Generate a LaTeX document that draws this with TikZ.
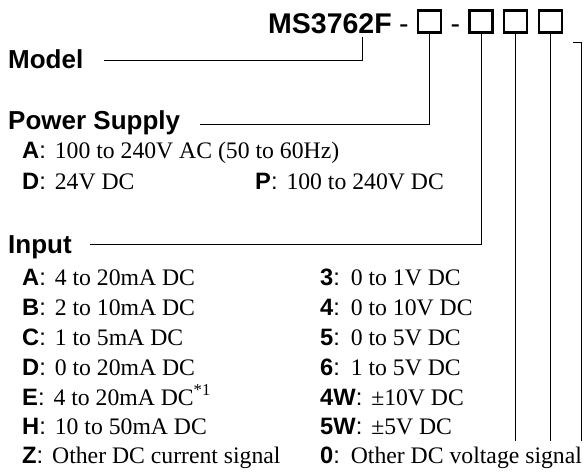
\documentclass[tikz,border=0pt]{standalone}
\usepackage{fontspec}
\setmainfont{Liberation Serif}
\newfontfamily\hvfont{Liberation Sans}
\newcommand\keyitem[2]{{\hvfont\bfseries #1}{\hvfont :}\hspace{3pt} #2}
\begin{document}
\begin{tikzpicture}[x=1pt,y=-1pt,
  txt/.style={anchor=base west, inner sep=0pt},
  titlefont/.style={txt, font=\hvfont\bfseries\fontsize{28.5}{32}\selectfont},
  dashfont/.style={txt, font=\hvfont\fontsize{28.5}{32}\selectfont},
  head/.style={txt, font=\hvfont\bfseries\fontsize{26}{30}\selectfont},
  item/.style={txt, font=\fontsize{23.7}{28}\selectfont},
  codebox/.style={draw, line width=2.4pt, minimum width=23pt, minimum height=22pt, inner sep=0pt},
  conn/.style={line width=1pt}]
\useasboundingbox (0,0) rectangle (584,475);

% title line
\node[titlefont] (title) at (268,33) {MS3762F};
\node[dashfont] (d1) at (399,33) {-};
\node[codebox] (b1) at (429.5,21.5) {};
\node[dashfont] (d2) at (450.5,33) {-};
\node[codebox] (b2) at (481,21.5) {};
\node[codebox] (b3) at (515.5,21.5) {};
\node[codebox] (b4) at (550.5,21.5) {};

% headers
\node[head] (model) at (8,68) {Model};
\node[head] (power) at (8,129) {Power Supply};
\node[head] (input) at (8,253) {Input};

% power supply items
\node[item] (pA) at (22,158) {\keyitem{A}{100 to 240V AC (50 to 60Hz)}};
\node[item] (pD) at (22,189) {\keyitem{D}{24V DC}};
\node[item] (pP) at (255,189) {\keyitem{P}{100 to 240V DC}};

% input items, left column
\node[item] (iA) at (22,285) {\keyitem{A}{4 to 20mA DC}};
\node[item] (iB) at (22,315) {\keyitem{B}{2 to 10mA DC}};
\node[item] (iC) at (22,345) {\keyitem{C}{1 to 5mA DC}};
\node[item] (iD) at (22,375) {\keyitem{D}{0 to 20mA DC}};
\node[item] (iE) at (22,405) {\keyitem{E}{4 to 20mA DC\textsuperscript{*1}}};
\node[item] (iH) at (22,434) {\keyitem{H}{10 to 50mA DC}};
\node[item] (iZ) at (22,463) {\keyitem{Z}{Other DC current signal}};

% input items, right column
\node[item] (i3) at (320,285) {\keyitem{3}{0 to 1V DC}};
\node[item] (i4) at (320,315) {\keyitem{4}{0 to 10V DC}};
\node[item] (i5) at (320,345) {\keyitem{5}{0 to 5V DC}};
\node[item] (i6) at (320,375) {\keyitem{6}{1 to 5V DC}};
\node[item] (i4W) at (320,405) {\keyitem{4W}{±10V DC}};
\node[item] (i5W) at (320,434) {\keyitem{5W}{±5V DC}};
\node[item] (i0) at (320,463) {\keyitem{0}{Other DC voltage signal}};

% connector end points
\coordinate (mL) at (104,60);
\coordinate (mT) at (362,37);
\coordinate (psL) at (200,124);
\coordinate (inL) at (90,244);
\coordinate (e3) at (515.5,441);
\coordinate (e4) at (550.5,441);
\coordinate (h0) at (573,42);
\coordinate (h1) at (581.5,42);
\coordinate (e5) at (581.5,441);

% connectors
\draw[conn] (mL) -| (mT);
\draw[conn] (psL) -| (b1.south);
\draw[conn] (inL) -| (b2.south);
\draw[conn] (b3.south) -- (e3);
\draw[conn] (b4.south) -- (e4);
\draw[conn] (h0) -- (h1) -- (e5);
\end{tikzpicture}
\end{document}
